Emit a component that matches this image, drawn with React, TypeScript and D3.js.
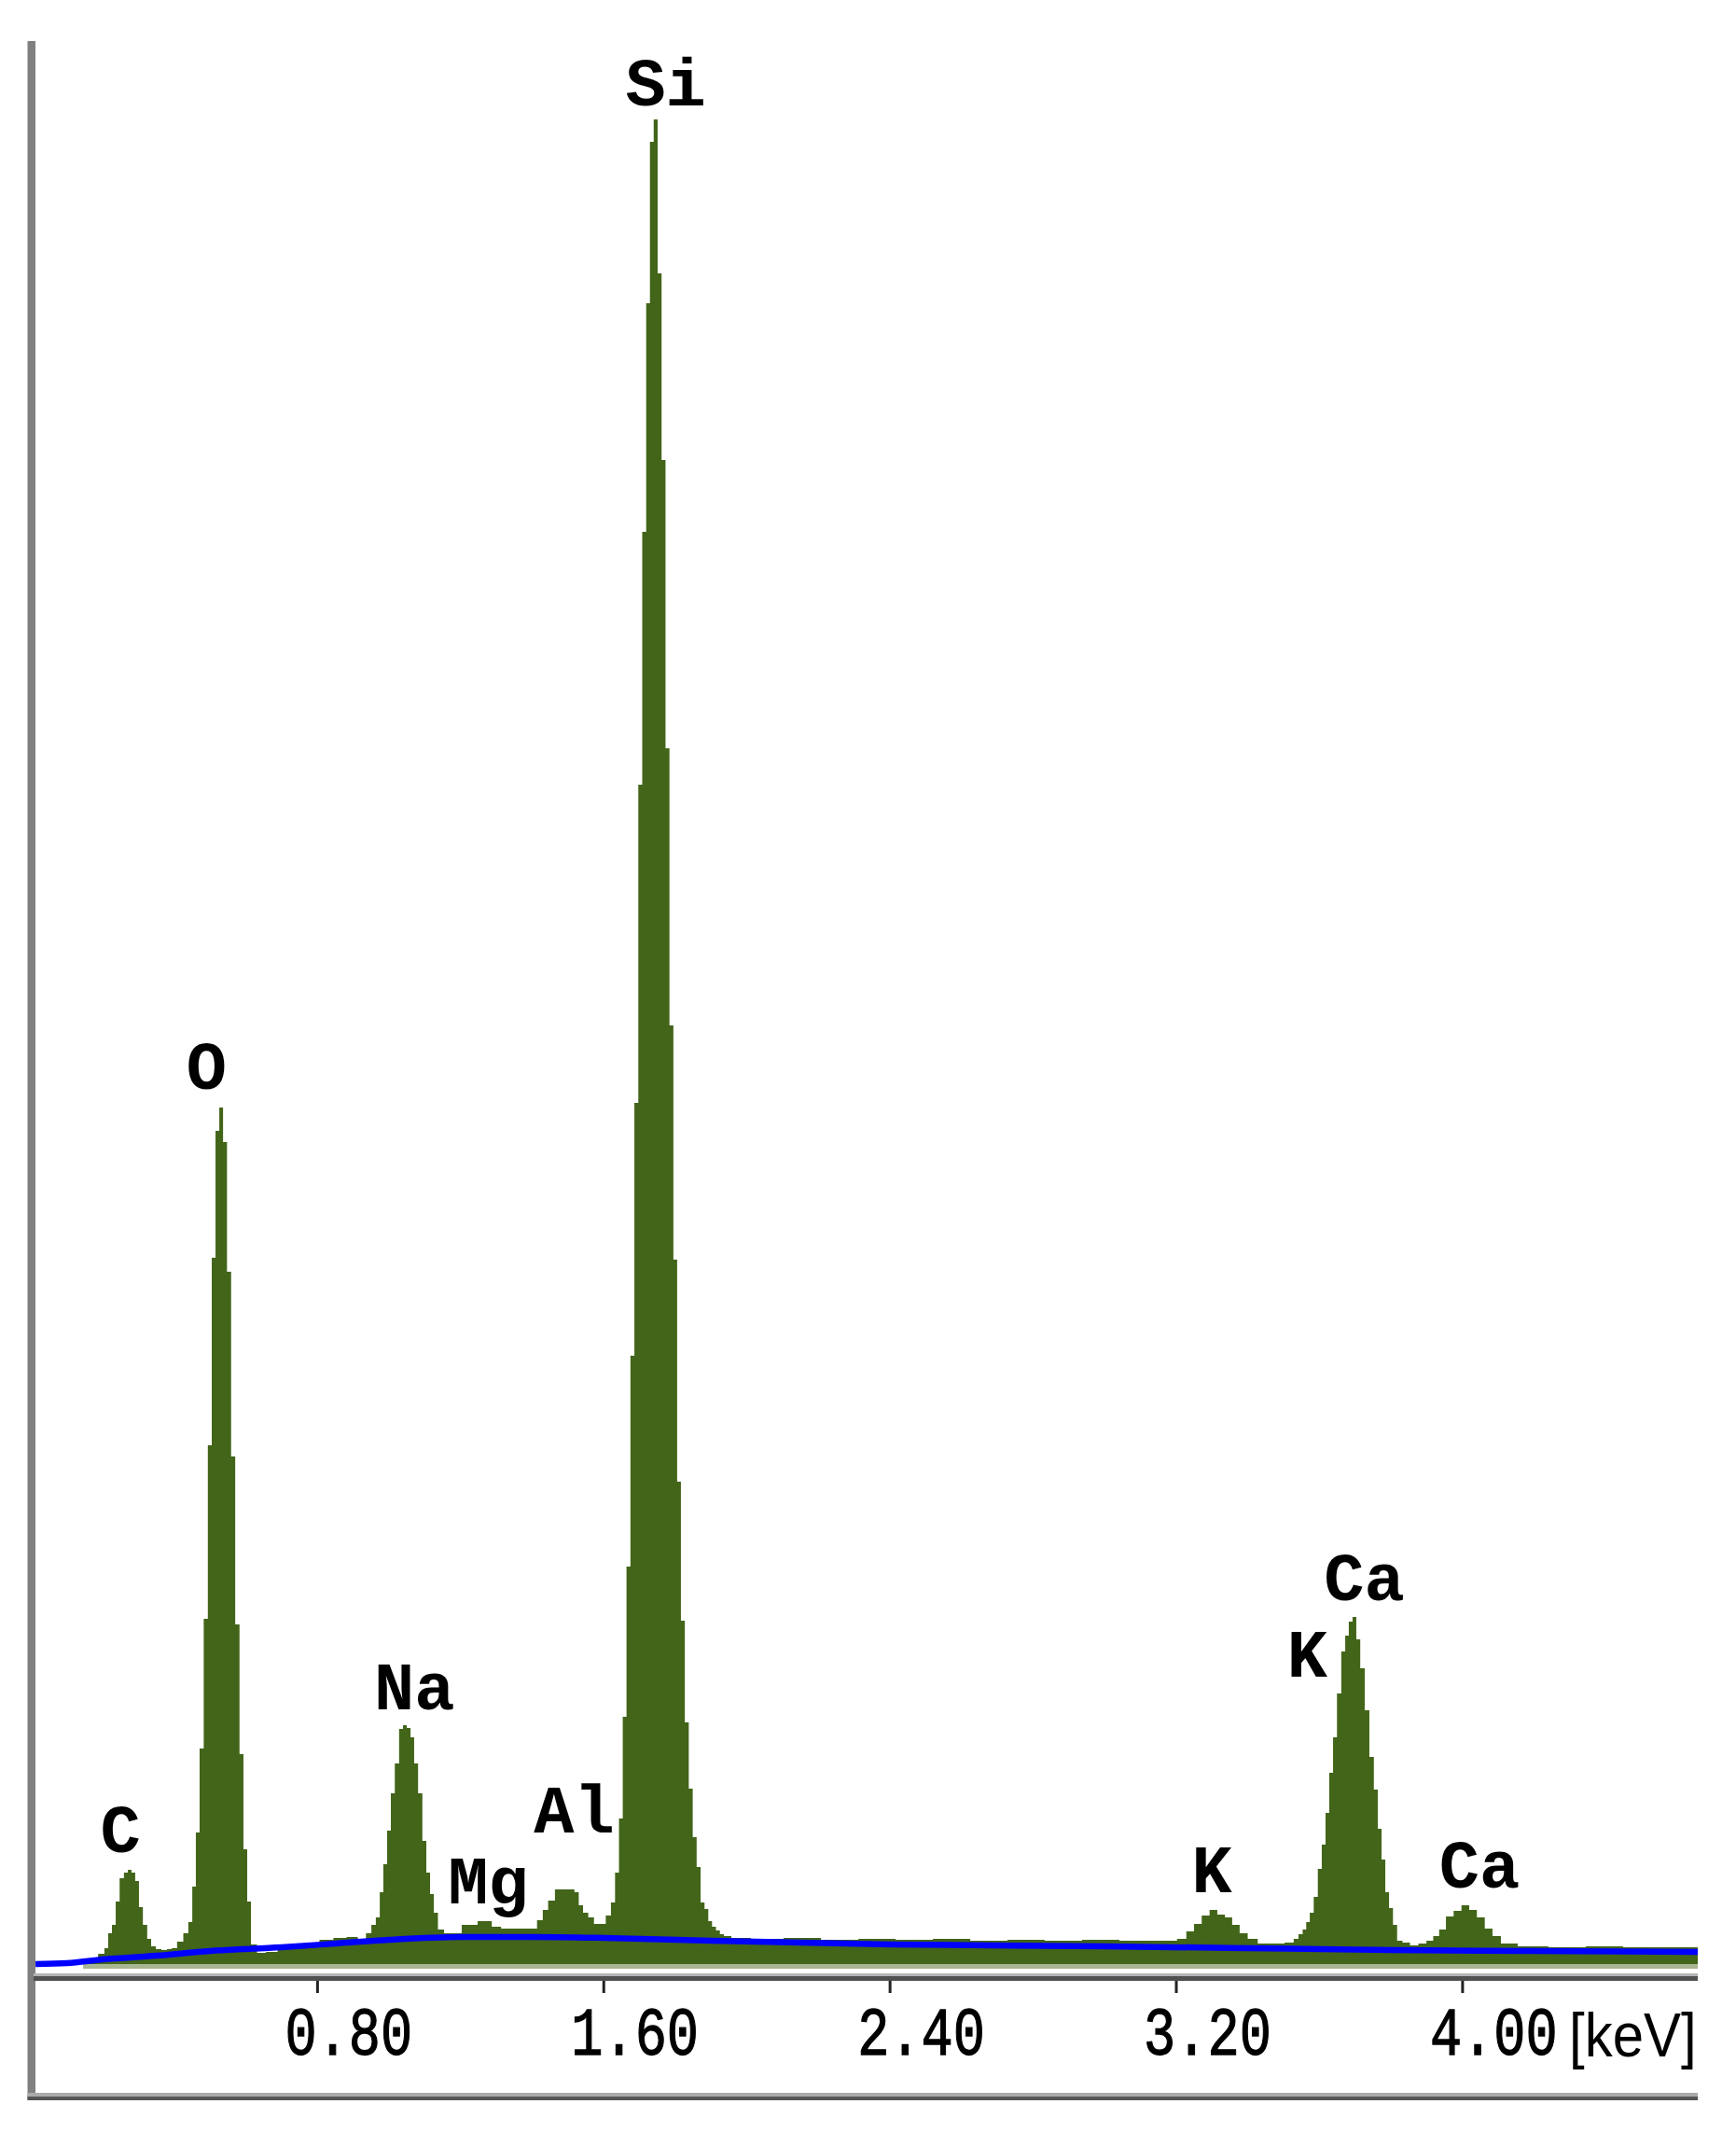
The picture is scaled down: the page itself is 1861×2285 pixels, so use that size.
import React from 'react';
import * as d3 from 'd3';

// Spectrum channels (energy in keV, counts in arbitrary units)
const energyKeV = [
  0.012, 0.140, 0.150, 0.175, 0.199, 0.210, 0.220, 0.231, 0.241, 0.253, 0.265, 0.275, 0.285, 0.296, 0.306,
  0.318, 0.330, 0.340, 0.356, 0.372, 0.387, 0.398, 0.417, 0.433, 0.445, 0.455, 0.465, 0.476, 0.488, 0.499,
  0.510, 0.520, 0.531, 0.541, 0.553, 0.564, 0.576, 0.588, 0.598, 0.609, 0.619, 0.643, 0.669, 0.708, 0.747,
  0.786, 0.825, 0.864, 0.898, 0.927, 0.944, 0.957, 0.969, 0.979, 0.989, 1.000, 1.010, 1.022, 1.034, 1.044,
  1.055, 1.065, 1.075, 1.087, 1.099, 1.109, 1.120, 1.130, 1.143, 1.164, 1.190, 1.216, 1.237, 1.258, 1.274,
  1.300, 1.326, 1.352, 1.378, 1.404, 1.423, 1.436, 1.453, 1.474, 1.492, 1.511, 1.525, 1.535, 1.549, 1.564,
  1.581, 1.597, 1.614, 1.626, 1.637, 1.648, 1.658, 1.669, 1.680, 1.691, 1.702, 1.713, 1.724, 1.734, 1.745,
  1.756, 1.767, 1.778, 1.789, 1.800, 1.810, 1.821, 1.832, 1.843, 1.854, 1.865, 1.876, 1.887, 1.897, 1.908,
  1.919, 1.930, 1.941, 1.972, 2.050, 2.155, 2.259, 2.364, 2.467, 2.572, 2.676, 2.780, 2.884, 2.989, 3.093,
  3.187, 3.217, 3.239, 3.260, 3.282, 3.304, 3.325, 3.347, 3.365, 3.389, 3.410, 3.445, 3.484, 3.521, 3.535,
  3.548, 3.558, 3.568, 3.578, 3.590, 3.601, 3.612, 3.622, 3.633, 3.643, 3.655, 3.667, 3.677, 3.687, 3.698,
  3.708, 3.720, 3.733, 3.746, 3.758, 3.768, 3.779, 3.789, 3.800, 3.811, 3.823, 3.841, 3.865, 3.888, 3.910,
  3.926, 3.943, 3.964, 3.986, 4.008, 4.029, 4.051, 4.073, 4.094, 4.120, 4.188, 4.292, 4.396, 4.501, 4.605,
  4.660,
];
const counts = [
  0, 0, 6, 6, 11, 17, 33, 42, 67, 92, 98, 101, 98, 89, 61,
  42, 27, 19, 16, 15, 16, 17, 24, 33, 45, 83, 141, 231, 370, 556,
  757, 893, 918, 881, 742, 544, 364, 225, 123, 67, 21, 12, 13, 18, 19,
  21, 26, 28, 29, 25, 33, 42, 50, 77, 107, 143, 183, 215, 252, 256,
  253, 243, 215, 183, 132, 98, 75, 55, 37, 33, 33, 42, 42, 46, 46,
  40, 38, 38, 38, 38, 47, 58, 68, 80, 80, 80, 77, 63, 55, 50,
  43, 43, 52, 66, 98, 156, 265, 426, 652, 923, 1264, 1535, 1780, 1953, 1977,
  1812, 1612, 1303, 1006, 755, 517, 368, 259, 188, 136, 104, 66, 59, 46, 40,
  36, 32, 30, 28, 27, 28, 26, 27, 26, 27, 25, 26, 25, 26, 25,
  25, 27, 35, 43, 52, 58, 53, 50, 42, 33, 27, 22, 22, 23, 27,
  32, 37, 45, 55, 72, 102, 128, 162, 205, 243, 290, 335, 352, 367, 372,
  348, 317, 272, 222, 187, 145, 112, 77, 60, 42, 25, 23, 20, 22, 25,
  30, 37, 51, 57, 63, 58, 50, 38, 30, 22, 19, 18, 19, 18, 18,
  18,
];

// Background (bremsstrahlung) fit line
const bgEnergyKeV = [0.012, 0.1, 0.2, 0.35, 0.5, 0.7, 0.85, 1.0, 1.2, 1.4, 1.6, 1.9, 2.4, 3.0, 3.4, 3.8, 4.2, 4.66];
const bgCounts = [0, 1, 5, 9, 14, 18, 22, 26, 29, 29, 28, 25, 21, 19, 17, 15, 14, 13];

// Axis
const tickValues = [0.8, 1.6, 2.4, 3.2, 4.0];
const tickLabels = ['0.80', '1.60', '2.40', '3.20', '4.00'];
const unitLabel = '[keV]';

// Peak labels
const peakNames = ['C', 'O', 'Na', 'Mg', 'Al', 'Si', 'K', 'K', 'Ca', 'Ca'];
const peakLabelKeV = [0.249, 0.490, 1.071, 1.277, 1.517, 1.773, 3.299, 3.566, 3.725, 4.047];
const peakLabelCounts = [120, 938, 273, 65, 141, 1992, 77, 308, 390, 82];

export default function App() {
  const W = 1861;
  const H = 2285;
  const plotLeft = 38;
  const plotRight = 1820;
  const x = d3.scaleLinear().domain([0, 4]).range([33.5, 1567.9]);
  const y = d3.scaleLinear().domain([0, 2000]).range([2105, 105]);

  const area = d3
    .area<number>()
    .x((_, i) => x(energyKeV[i]))
    .y0(y(0))
    .y1((d) => y(d))
    .curve(d3.curveStep);

  const bgLine = d3
    .line<number>()
    .x((_, i) => x(bgEnergyKeV[i]))
    .y((d) => y(d))
    .curve(d3.curveMonotoneX);

  const green = '#426519';

  return (
    <svg
      width={W}
      height={H}
      viewBox={`0 0 ${W} ${H}`}
      style={{ position: 'absolute', left: 0, top: 0, background: '#fff' }}
    >
      <defs>
        <clipPath id="plotClip">
          <rect x={plotLeft} y={0} width={plotRight - plotLeft} height={2112} />
        </clipPath>
      </defs>
      <rect x={0} y={0} width={W} height={H} fill="#fff" />

      <g clipPath="url(#plotClip)">
        <rect x={x(0.145)} y={y(0)} width={plotRight - x(0.145)} height={5} fill="#a8b691" />
        <path d={area(counts) || ''} fill={green} />
        <path d={bgLine(bgCounts) || ''} fill="none" stroke="#0000ff" strokeWidth={6.5} />
      </g>

      {/* peak labels */}
      {peakNames.map((n, i) => (
        <text
          key={`p${i}`}
          x={x(peakLabelKeV[i])}
          y={y(peakLabelCounts[i])}
          textAnchor="middle"
          fontFamily="'Liberation Mono', 'Courier New', monospace"
          fontWeight="bold"
          fontSize={72}
          fill="#000"
        >
          {n}
        </text>
      ))}

      {/* left frame */}
      <rect x={29.5} y={44} width={8.5} height={2207} fill="#808080" />

      {/* axis double line */}
      <rect x={36} y={2115} width={plotRight - 36} height={3} fill="#b4b4b4" />
      <rect x={36} y={2118} width={plotRight - 36} height={5} fill="#505050" />

      {/* ticks */}
      {tickValues.map((v, i) => (
        <line key={`t${i}`} x1={x(v)} x2={x(v)} y1={2123} y2={2136} stroke="#222" strokeWidth={3} />
      ))}
      {tickValues.map((v, i) => (
        <text
          key={`tl${i}`}
          transform={`translate(${x(v) - 35},2202) scale(1,1.26)`}
          fontFamily="'Liberation Mono', 'Courier New', monospace"
          fontSize={57}
          fill="#000"
          stroke="#000"
          strokeWidth={1}
        >
          {tickLabels[i]}
        </text>
      ))}
      <text
        transform="translate(1682,2204) scale(1,1.12)"
        fontFamily="'Liberation Sans', 'DejaVu Sans', sans-serif"
        fontSize={60}
        fill="#000"
      >
        {unitLabel}
      </text>

      {/* bottom frame */}
      <rect x={29.5} y={2243} width={plotRight - 29.5} height={4} fill="#aaaaaa" />
      <rect x={29.5} y={2247} width={plotRight - 29.5} height={4} fill="#555555" />
    </svg>
  );
}
